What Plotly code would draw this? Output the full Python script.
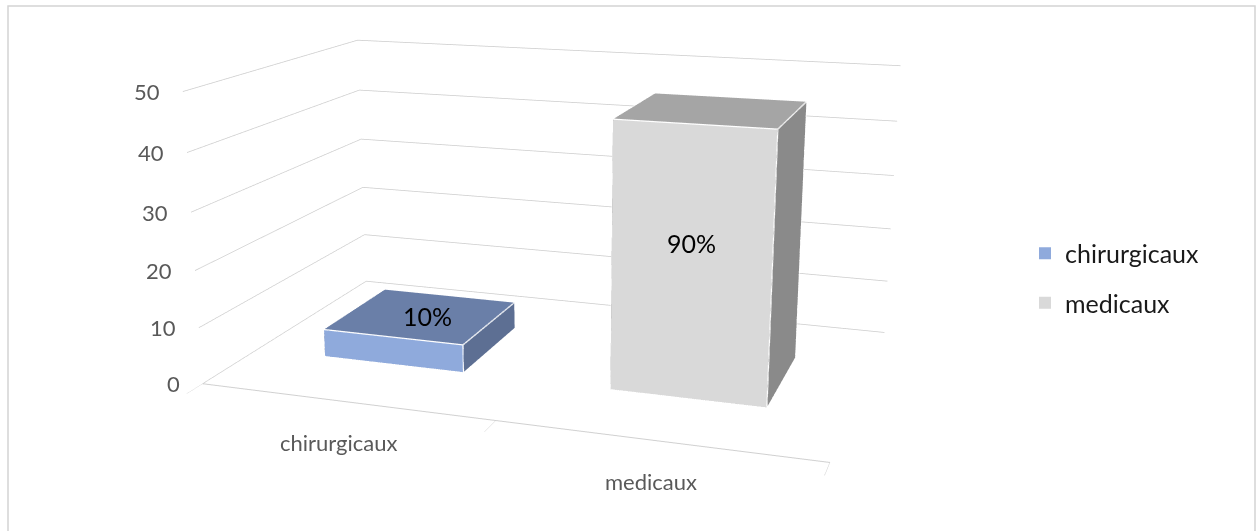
import plotly.graph_objects as go

# Data
categories = ["chirurgicaux", "medicaux"]
counts = [5, 46]
front_colors = ["#8FAADC", "#D9D9D9"]
top_colors = ["#6A7FA8", "#A5A5A5"]
side_colors = ["#5D6F93", "#8A8A8A"]
z_ticks = [0, 10, 20, 30, 40, 50]

total = sum(counts)
shares = [round(100 * v / total) for v in counts]

BAR_W = 0.5          # bar width in category units
Y0, Y1 = 0.3, 0.7    # bar depth span inside the [0, 1] depth axis

W, H = 1257, 531
FONT = "Lato, Open Sans, sans-serif"


def box_trace(xc, h, front, top, side, name):
    x0, x1 = xc - BAR_W / 2, xc + BAR_W / 2
    X = [x0, x1, x1, x0, x0, x1, x1, x0]
    Y = [Y0, Y0, Y1, Y1, Y0, Y0, Y1, Y1]
    Z = [0, 0, 0, 0, h, h, h, h]
    tris = [
        ((0, 1, 5), front), ((0, 5, 4), front),   # front
        ((4, 5, 6), top), ((4, 6, 7), top),       # top
        ((1, 2, 6), side), ((1, 6, 5), side),     # right side
        ((3, 0, 4), side), ((3, 4, 7), side),     # left side
        ((2, 3, 7), side), ((2, 7, 6), side),     # back
        ((0, 3, 2), side), ((0, 2, 1), side),     # bottom
    ]
    mesh = go.Mesh3d(
        x=X, y=Y, z=Z,
        i=[t[0][0] for t in tris], j=[t[0][1] for t in tris], k=[t[0][2] for t in tris],
        facecolor=[t[1] for t in tris],
        flatshading=True,
        lighting=dict(ambient=1.0, diffuse=0.0, specular=0.0, roughness=1.0, fresnel=0.0),
        hoverinfo="skip", showlegend=False, name=name,
    )
    edges = [(0, 1), (1, 5), (5, 4), (4, 0), (5, 6), (6, 7), (7, 4), (1, 2), (2, 6)]
    ex, ey, ez = [], [], []
    for a, b in edges:
        ex += [X[a], X[b], None]
        ey += [Y[a], Y[b], None]
        ez += [Z[a], Z[b], None]
    line = go.Scatter3d(x=ex, y=ey, z=ez, mode="lines",
                        line=dict(color="white", width=2.5),
                        hoverinfo="skip", showlegend=False)
    return [mesh, line]


traces = []
for idx, (cat, v) in enumerate(zip(categories, counts)):
    traces += box_trace(idx, v, front_colors[idx], top_colors[idx], side_colors[idx], cat)

# legend entries
for cat, col in zip(categories, front_colors):
    traces.append(go.Scatter(x=[None], y=[None], mode="markers", name=cat,
                             marker=dict(symbol="square", size=10, color=col),
                             legendgroup=cat))

fig = go.Figure(traces)

label_font = dict(family=FONT, size=22, color="#595959")
value_font = dict(family=FONT, size=25, color="#000000")

annotations = []
# value axis labels, upright, at the left end of each gridline
for t in z_ticks:
    annotations.append(dict(x=-0.5, y=0, z=t, text=str(t), showarrow=False,
                            xanchor="right", yanchor="middle", xshift=-21,
                            font=label_font))
for idx, (cat, v, s) in enumerate(zip(categories, counts, shares)):
    annotations.append(dict(x=idx, y=0, z=0, text=cat, showarrow=False,
                            yshift=-41, xshift=-6, font=label_font))
    if v < 10:
        annotations.append(dict(x=idx, y=(Y0 + Y1) / 2, z=v, text=f"{s}%",
                                showarrow=False, xshift=6, font=value_font))
    else:
        annotations.append(dict(x=idx, y=Y0, z=v * 0.58, text=f"{s}%",
                                showarrow=False, font=value_font))

# scene viewport (pixels) and camera focal length (pixels)
vx0, vx1 = 30, 1090
FOCAL = 1549
fig.update_layout(
    width=W, height=H,
    margin=dict(l=0, r=0, t=0, b=0),
    paper_bgcolor="white", plot_bgcolor="white",
    xaxis=dict(visible=False), yaxis=dict(visible=False),
    showlegend=True,
    legend=dict(x=1025 / W, y=1 - 278 / H, xanchor="left", yanchor="middle",
                font=dict(family=FONT, size=25, color="#1a1a1a"),
                tracegroupgap=14, itemsizing="constant", bgcolor="rgba(0,0,0,0)"),
    scene=dict(
        domain=dict(x=[vx0 / W, vx1 / W], y=[0, 1]),
        aspectmode="manual",
        aspectratio=dict(x=2.127, y=1.29, z=1.0),
        camera=dict(eye=dict(x=1.654, y=-4.954, z=1.332),
                    center=dict(x=0.0134, y=-0.0378, z=-0.1496),
                    up=dict(x=0, y=0, z=1)),
        xaxis=dict(range=[-0.5, 1.5], title="", showgrid=False, zeroline=False,
                   showline=True, linecolor="#d0d0d0", linewidth=2,
                   tickvals=[-0.5, 0.5, 1.5], ticktext=["", "", ""],
                   ticks="outside", ticklen=6, tickcolor="#d0d0d0",
                   showbackground=False, showspikes=False),
        yaxis=dict(range=[0, 1], title="", showgrid=False, zeroline=False, showline=False,
                   showticklabels=False, ticks="", showbackground=False, showspikes=False),
        zaxis=dict(range=[0, 50], title="", tickvals=z_ticks, showgrid=True,
                   gridcolor="#cccccc", gridwidth=1.5, zeroline=False, showline=False,
                   ticks="", showticklabels=False,
                   showbackground=False, showspikes=False),
        annotations=annotations,
    ),
    shapes=[dict(type="rect", xref="paper", yref="paper",
                 x0=8 / W, x1=1255 / W, y0=-0.05, y1=1 - 6 / H,
                 line=dict(color="#d4d4d4", width=1.5), fillcolor="rgba(0,0,0,0)")],
)

# narrower field of view for a gentler perspective
post = """
var gd = document.getElementById('{plot_id}');
var sc = gd._fullLayout.scene._scene;
if (sc && sc.glplot) { sc.glplot.fovy = 2 * Math.atan(%f / (2 * %f)); sc.glplot.redraw(); }
""" % (H, FOCAL)

fig.write_html("out.html", post_script=post)
